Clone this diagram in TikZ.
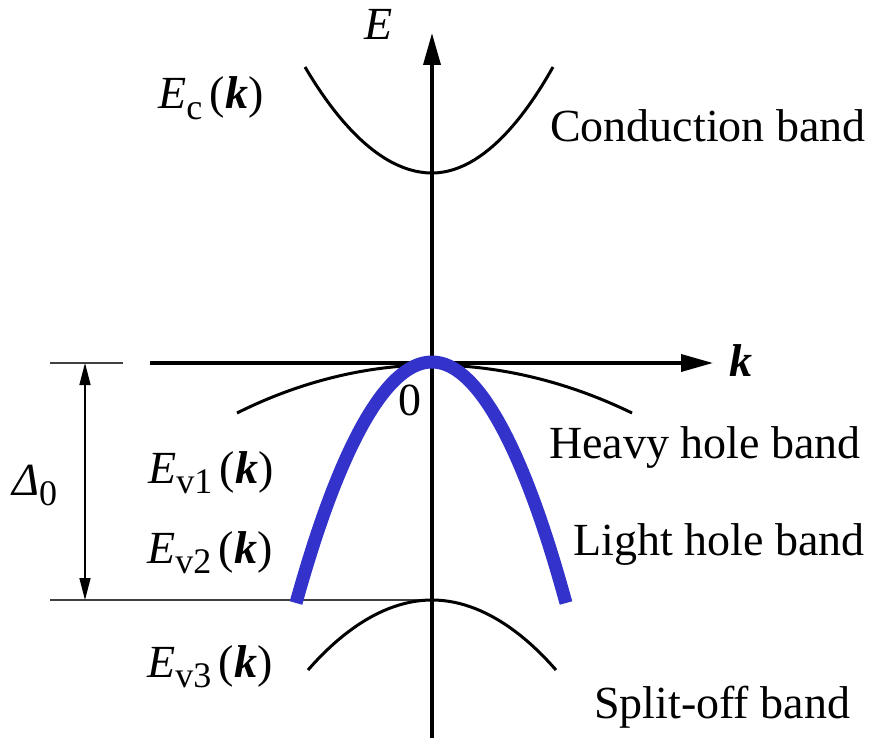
\documentclass[tikz,border=0pt]{standalone}
\usepackage{fontspec}
\setmainfont{Liberation Serif}
\usetikzlibrary{arrows.meta}
\definecolor{lhblue}{RGB}{51,51,204}
\tikzset{
  lbl/.style={inner sep=0pt, anchor=base west, font=\fontsize{46}{50}\selectfont},
  band/.style={line width=3pt, black},
  axis/.style={line width=3.6pt, -{Triangle[length=32pt,width=17pt]}},
  thin/.style={line width=1.8pt, black!75},
}
\newcommand{\sbx}[1]{\raisebox{-0.22em}{\fontsize{36}{40}\selectfont #1}}
\newcommand{\kv}{\textbf{\textit{k}}}
\begin{document}
\begin{tikzpicture}[x=1pt,y=-1pt]
\useasboundingbox (0,0) rectangle (880,738);
% coordinates
\coordinate (o) at (432,363);
\coordinate (vb) at (432,738);
\coordinate (vt) at (432,33);
\coordinate (hl) at (150,363);
\coordinate (hr) at (713,363);
\coordinate (tickL) at (50,363);
\coordinate (tickR) at (123,363);
\coordinate (soL) at (50,600);
\coordinate (soR) at (432,600);
\coordinate (dA) at (85,363);
\coordinate (dB) at (85,600);
% bands
\coordinate (c1) at (305,67); \coordinate (c0) at (432,173); \coordinate (c2) at (553,67);
\coordinate (h1) at (237,413); \coordinate (h0) at (432,365); \coordinate (h2) at (632,413);
\coordinate (l1) at (296,603); \coordinate (l0) at (432,362); \coordinate (l2) at (566,603);
\coordinate (s1) at (308,670); \coordinate (s0) at (432,600); \coordinate (s2) at (556,670);

\draw[thin] (tickL) -- (tickR);
\draw[thin] (soL) -- (soR);
\draw[line width=1.5pt, {Triangle[length=22pt,width=11pt]}-{Triangle[length=22pt,width=11pt]}] (dA) -- (dB);

\draw[band] (c1) parabola bend (c0) (c2);
\draw[band] (h1) parabola bend (h0) (h2);
\draw[band] (s1) parabola bend (s0) (s2);

\draw[axis] (vb) -- (vt);
\draw[axis] (hl) -- (hr);

\draw[line width=13pt, lhblue] (l1) parabola bend (l0) (l2);

% labels
\node[lbl] (E) at (364,40) {\textit{E}};
\node[lbl] (k) at (729,376) {\kv};
\node[lbl] (zero) at (398,415) {0};
\node[lbl] (Ec) at (158,109) {\textit{E}\sbx{c}\,(\kv)};
\node[lbl] (Ev1) at (148,483) {\textit{E}\sbx{v1}\,(\kv)};
\node[lbl] (Ev2) at (147,563) {\textit{E}\sbx{v2}\,(\kv)};
\node[lbl] (Ev3) at (147,677) {\textit{E}\sbx{v3}\,(\kv)};
\node[lbl] (D0) at (12,495) {\textit{Δ}\sbx{0}};
\node[lbl] (cb) at (550,142) {Conduction band};
\node[lbl] (hh) at (549,458) {Heavy hole band};
\node[lbl] (lh) at (573,555) {Light hole band};
\node[lbl] (so) at (594,718) {Split-off band};
\end{tikzpicture}
\end{document}
